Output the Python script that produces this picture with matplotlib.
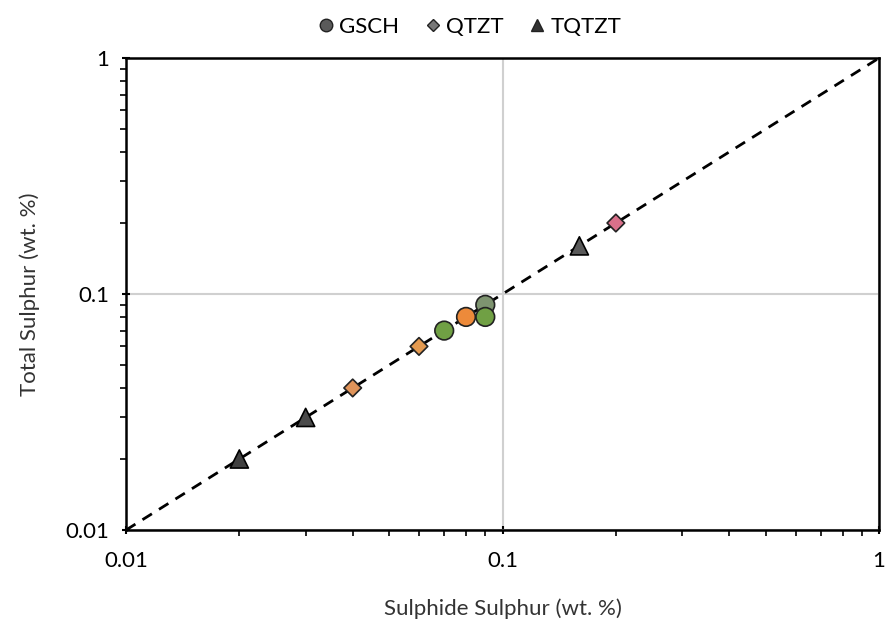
import matplotlib.pyplot as plt
import matplotlib.ticker as ticker
from matplotlib.lines import Line2D

plt.rcParams['font.family'] = ['Lato', 'DejaVu Sans']

# sulphide S vs total S (wt. %) per lithology
gsch_x = [0.07, 0.08, 0.09, 0.09]
gsch_y = [0.07, 0.08, 0.09, 0.08]
gsch_c = ['#70a044', '#ed8a3a', '#7e9470', '#70a044']

qtzt_x = [0.04, 0.06, 0.20]
qtzt_y = [0.04, 0.06, 0.20]
qtzt_c = ['#e0945a', '#e49a50', '#d9708a']

tqtzt_x = [0.02, 0.03, 0.16]
tqtzt_y = [0.02, 0.03, 0.16]
tqtzt_c = ['#404040', '#4a4a4a', '#5a5a5a']

fig = plt.figure(figsize=(8.88, 6.21), dpi=100)
ax = fig.add_axes([0.1419, 0.1465, 0.848, 0.760])

ax.set_xscale('log')
ax.set_yscale('log')
ax.set_xlim(0.01, 1)
ax.set_ylim(0.01, 1)

# 1:1 line
ax.plot([0.01, 1], [0.01, 1], color='black', lw=2, ls=(0, (4, 3)), zorder=2)

ax.scatter(tqtzt_x, tqtzt_y, marker='^', s=170, c=tqtzt_c, edgecolors='black', linewidths=1.2, zorder=3)
ax.scatter(qtzt_x, qtzt_y, marker='D', s=80, c=qtzt_c, edgecolors='#222222', linewidths=1.2, zorder=3)
ax.scatter(gsch_x, gsch_y, marker='o', s=180, c=gsch_c, edgecolors='#222222', linewidths=1.2, zorder=4)

ax.grid(True, which='major', color='#d0d0d0', lw=1.5, zorder=0)
ax.set_axisbelow(True)

fmt = ticker.FuncFormatter(lambda v, p: '{:g}'.format(v))
ax.xaxis.set_major_formatter(fmt)
ax.yaxis.set_major_formatter(fmt)
ax.xaxis.set_minor_formatter(ticker.NullFormatter())
ax.yaxis.set_minor_formatter(ticker.NullFormatter())
ax.tick_params(which='major', length=6, width=1.5, direction='inout', labelsize=16, colors='black')
ax.tick_params(axis='x', which='major', pad=12)
ax.tick_params(axis='y', which='major', pad=9)
ax.tick_params(which='minor', length=4, width=1.2, direction='out')

for s in ax.spines.values():
    s.set_linewidth(1.8)
    s.set_color('black')

ax.set_xlabel('Sulphide Sulphur (wt. %)', fontsize=16, color='#333333', labelpad=20)
ax.set_ylabel('Total Sulphur (wt. %)', fontsize=16, color='#333333', labelpad=18)

handles = [
    Line2D([], [], marker='o', ls='', color='#5a5a5a', mec='#222222', ms=9, label='GSCH'),
    Line2D([], [], marker='D', ls='', color='#777777', mec='#222222', ms=6, label='QTZT'),
    Line2D([], [], marker='^', ls='', color='#333333', mec='#222222', ms=9, label='TQTZT'),
]
fig.legend(handles=handles, loc='upper center', bbox_to_anchor=(0.527, 1.005), ncol=3, frameon=False,
           fontsize=16, handletextpad=0.1, columnspacing=1.0, handlelength=1.0)

fig.savefig('out.png', dpi=100)
